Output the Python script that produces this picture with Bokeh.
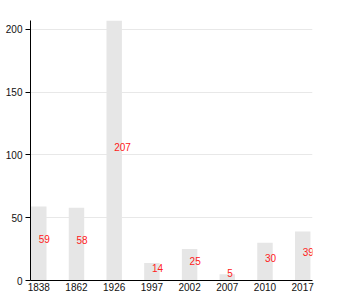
from bokeh.plotting import figure
from bokeh.models import ColumnDataSource, FixedTicker, Range1d
from bokeh.core.properties import value
from bokeh.embed import file_html
from bokeh.resources import INLINE

years = ["1838", "1862", "1926", "1997", "2002", "2007", "2010", "2017"]
counts = [59, 58, 207, 14, 25, 5, 30, 39]

idx = list(range(len(years)))
src = ColumnDataSource(dict(x=idx, top=counts, mid=[c / 2 for c in counts],
                            label=[str(c) for c in counts]))

p = figure(width=350, height=300, output_backend="svg", toolbar_location=None,
           x_range=Range1d(-0.22, 7.26), y_range=Range1d(0, 207),
           min_border_left=30, min_border_right=38, min_border_top=20, min_border_bottom=20)
p.outline_line_color = None
p.background_fill_color = "white"
p.border_fill_color = "white"

p.vbar(x="x", top="top", bottom=0, width=0.41, source=src,
       fill_color="#e6e6e6", line_color=None)
p.text(x="x", y="mid", text="label", source=src, text_color="#ff2020",
       text_font=value("Liberation Sans"), text_font_size="10px",
       text_align="left", text_baseline="middle", y_offset=-4)

p.xgrid.grid_line_color = None
p.ygrid.grid_line_color = "#e8e8e8"
p.ygrid.ticker = FixedTicker(ticks=[0, 50, 100, 150, 200])

p.xaxis.ticker = FixedTicker(ticks=idx)
p.xaxis.major_label_overrides = {i: y for i, y in enumerate(years)}
p.xaxis.major_tick_line_color = None
p.xaxis.minor_tick_line_color = None
p.xaxis.major_tick_out = 0
p.xaxis.major_tick_in = 0
p.xaxis.axis_line_color = "black"
p.xaxis.major_label_standoff = 2

p.yaxis.ticker = FixedTicker(ticks=[0, 50, 100, 150, 200])
p.yaxis.minor_tick_line_color = None
p.yaxis.major_tick_out = 5
p.yaxis.major_tick_in = 0
p.yaxis.major_label_standoff = 3
p.yaxis.axis_line_color = "black"

for ax in (p.xaxis[0], p.yaxis[0]):
    ax.major_label_text_font = "Liberation Sans"
    ax.major_label_text_font_size = "10px"
    ax.major_label_text_color = "#111111"

open("out.html", "w").write(file_html(p, INLINE))
